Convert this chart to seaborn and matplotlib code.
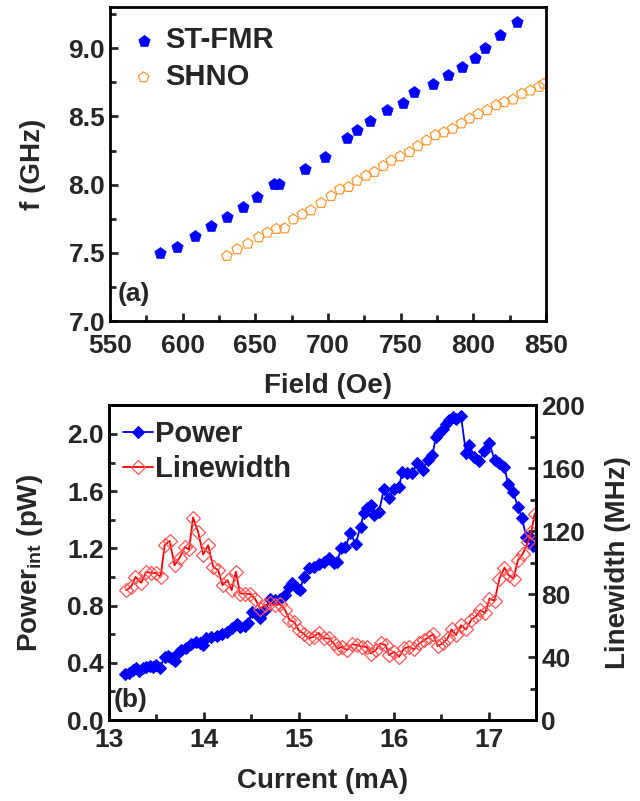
import matplotlib
matplotlib.use('Agg')
import matplotlib.pyplot as plt
import seaborn as sns
from matplotlib.ticker import MultipleLocator, FormatStrFormatter

# (a) resonance frequency vs field
fmr_field = [584.5, 596.3, 608.2, 619.4, 630.6, 641.4, 651.2, 662.9, 666.3, 684.1,
             697.8, 713.1, 720.0, 728.9, 740.3, 751.5, 759.3, 772.6, 782.9, 792.2,
             801.1, 808.0, 818.5, 829.9]
fmr_freq = [7.50, 7.546, 7.624, 7.70, 7.766, 7.834, 7.907, 8.002, 8.002, 8.117,
            8.202, 8.339, 8.402, 8.468, 8.544, 8.60, 8.676, 8.737, 8.80, 8.861,
            8.929, 9.0, 9.093, 9.188]
shno_field = [630.4, 637.5, 644.8, 652.3, 658.3, 664.5, 670.2, 676.1, 682.3, 688.2,
              695.3, 702.2, 708.1, 714.1, 720.0, 726.2, 731.9, 738.1, 743.5, 749.7,
              756.1, 761.8, 767.8, 773.9, 779.7, 785.8, 791.8, 797.5, 803.4, 809.6,
              815.8, 821.3, 827.4, 833.4, 839.3, 845.3, 848.5]
shno_freq = [7.478, 7.527, 7.568, 7.615, 7.649, 7.676, 7.680, 7.746, 7.783, 7.812,
             7.866, 7.917, 7.966, 7.983, 8.029, 8.066, 8.093, 8.137, 8.176, 8.207,
             8.239, 8.283, 8.324, 8.363, 8.383, 8.410, 8.449, 8.485, 8.517, 8.546,
             8.583, 8.605, 8.624, 8.666, 8.690, 8.717, 8.739]

# (b) integrated power and linewidth vs current
pw_current = [13.175, 13.217, 13.253, 13.288, 13.323, 13.358, 13.394, 13.429, 13.464, 13.499,
              13.535, 13.588, 13.623, 13.658, 13.693, 13.729, 13.764, 13.817, 13.870, 13.922,
              13.958, 13.993, 14.028, 14.081, 14.134, 14.187, 14.240, 14.293, 14.345, 14.381,
              14.434, 14.469, 14.504, 14.557, 14.592, 14.645, 14.698, 14.751, 14.804, 14.857,
              14.892, 14.927, 14.980, 15.015, 15.050, 15.103, 15.156, 15.209, 15.262, 15.315,
              15.368, 15.403, 15.445, 15.491, 15.544, 15.597, 15.650, 15.685, 15.720, 15.755,
              15.791, 15.844, 15.896, 15.949, 16.002, 16.055, 16.090, 16.143, 16.196, 16.249,
              16.302, 16.355, 16.407, 16.443, 16.478, 16.513, 16.548, 16.584, 16.619, 16.654,
              16.707, 16.760, 16.795, 16.848, 16.901, 16.954, 17.007, 17.060, 17.112, 17.165,
              17.201, 17.253, 17.306, 17.349, 17.394, 17.430, 17.465]
power = [0.324, 0.331, 0.350, 0.361, 0.343, 0.361, 0.373, 0.378, 0.368, 0.382,
         0.361, 0.443, 0.450, 0.431, 0.415, 0.466, 0.490, 0.501, 0.531, 0.543,
         0.536, 0.524, 0.571, 0.583, 0.590, 0.601, 0.618, 0.641, 0.669, 0.653,
         0.657, 0.676, 0.758, 0.741, 0.716, 0.769, 0.844, 0.839, 0.846, 0.874,
         0.932, 0.956, 0.921, 0.909, 1.002, 1.061, 1.072, 1.091, 1.107, 1.131,
         1.096, 1.107, 1.200, 1.212, 1.305, 1.231, 1.352, 1.445, 1.480, 1.503,
         1.434, 1.457, 1.615, 1.555, 1.618, 1.632, 1.737, 1.725, 1.725, 1.800,
         1.748, 1.818, 1.853, 1.981, 2.009, 2.033, 2.068, 2.098, 2.117, 2.105,
         2.126, 1.865, 1.923, 1.841, 1.814, 1.883, 1.935, 1.818, 1.795, 1.772,
         1.650, 1.597, 1.492, 1.410, 1.282, 1.282, 1.217]

lw_current = [13.182, 13.235, 13.281, 13.341, 13.394, 13.447, 13.492, 13.545, 13.588, 13.640,
              13.693, 13.746, 13.799, 13.845, 13.887, 13.940, 13.993, 14.046, 14.099, 14.152,
              14.197, 14.250, 14.293, 14.338, 14.381, 14.434, 14.486, 14.539, 14.592, 14.645,
              14.698, 14.751, 14.804, 14.857, 14.902, 14.952, 14.998, 15.050, 15.103, 15.156,
              15.209, 15.262, 15.315, 15.368, 15.410, 15.456, 15.509, 15.562, 15.614, 15.667,
              15.713, 15.755, 15.808, 15.861, 15.914, 15.949, 16.002, 16.055, 16.108, 16.161,
              16.214, 16.267, 16.319, 16.372, 16.415, 16.460, 16.513, 16.566, 16.608, 16.654,
              16.707, 16.760, 16.813, 16.866, 16.912, 16.961, 17.007, 17.060, 17.112, 17.165,
              17.208, 17.261, 17.306, 17.359, 17.412, 17.447, 17.483]
linewidth = [82.5, 84.7, 91.0, 87.2, 94.2, 93.5, 93.5, 91.0, 111.1, 113.9,
             98.4, 103.3, 110.1, 108.4, 128.7, 119.6, 105.2, 111.1, 97.4, 95.2,
             85.7, 88.9, 82.5, 94.2, 80.4, 80.4, 80.0, 77.2, 70.9, 73.0,
             74.1, 73.0, 73.7, 69.8, 63.5, 62.4, 57.1, 55.0, 51.9, 52.9,
             55.4, 51.9, 51.9, 48.7, 45.5, 46.6, 44.4, 48.3, 47.6, 46.6,
             46.6, 42.3, 44.4, 48.7, 47.6, 41.3, 43.4, 40.2, 45.5, 46.6,
             44.9, 48.7, 50.8, 52.9, 54.6, 47.0, 48.7, 51.9, 57.6, 54.0,
             60.3, 57.6, 63.5, 66.0, 69.8, 68.1, 77.2, 75.8, 89.9, 96.9,
             92.1, 89.9, 101.6, 105.8, 113.2, 119.6, 131.2]

sns.set_style('ticks')
plt.rcParams['font.family'] = ['Liberation Sans', 'DejaVu Sans']
plt.rcParams['font.weight'] = 'bold'
plt.rcParams['axes.labelweight'] = 'bold'
plt.rcParams['mathtext.fontset'] = 'custom'
plt.rcParams['mathtext.rm'] = 'Liberation Sans'
plt.rcParams['mathtext.bf'] = 'Liberation Sans:bold'

FS = 19

fig = plt.figure(figsize=(6.4, 8.01), dpi=100)
ax1 = fig.add_axes([0.172, 0.599, 0.681, 0.392])
ax2 = fig.add_axes([0.170, 0.101, 0.668, 0.393])


def style_axis(ax, right=False, xpad=6):
    for sp in ax.spines.values():
        sp.set_visible(True)
        sp.set_linewidth(2.0)
        sp.set_color('black')
    ax.tick_params(which='major', direction='in', length=6, width=2.0,
                   labelsize=FS, top=False, right=False)
    ax.tick_params(which='minor', direction='in', length=4, width=2.0,
                   top=False, right=False)
    ax.tick_params(axis='x', pad=xpad)
    if right:
        ax.tick_params(which='both', left=False, right=True, labelleft=False, labelright=True)
    for lab in ax.get_xticklabels() + ax.get_yticklabels():
        lab.set_fontweight('bold')


# ---------- (a) ----------
sns.scatterplot(x=fmr_field, y=fmr_freq, marker='p', s=75, color='#0000FF',
                edgecolor='#0000FF', linewidth=0.5, label='ST-FMR', ax=ax1)
sns.scatterplot(x=shno_field, y=shno_freq, marker='p', s=62, facecolor='none',
                edgecolor='#FF9933', linewidth=0.9, label='SHNO', ax=ax1)
ax1.set_xlim(550, 850)
ax1.set_ylim(7.0, 9.3)
ax1.xaxis.set_major_locator(MultipleLocator(50))
ax1.xaxis.set_minor_locator(MultipleLocator(25))
ax1.yaxis.set_major_locator(MultipleLocator(0.5))
ax1.yaxis.set_minor_locator(MultipleLocator(0.25))
ax1.yaxis.set_major_formatter(FormatStrFormatter('%.1f'))
ax1.set_xlabel('Field (Oe)', fontsize=FS + 1, fontweight='bold', labelpad=11)
ax1.set_ylabel('f (GHz)', fontsize=FS + 1, fontweight='bold', labelpad=16)
style_axis(ax1, xpad=9)
leg1 = ax1.legend(loc='upper left', bbox_to_anchor=(0.0, 1.0), frameon=False,
                  fontsize=FS + 2, handlelength=1.0, handletextpad=0.25,
                  labelspacing=0.3, borderaxespad=0.25)
for t in leg1.get_texts():
    t.set_fontweight('bold')
ax1.text(0.018, 0.05, '(a)', transform=ax1.transAxes, fontsize=FS,
         fontweight='bold', ha='left', va='bottom')

# ---------- (b) ----------
ax3 = ax2.twinx()
sns.lineplot(x=pw_current, y=power, marker='D', markersize=6.5, color='#0000FF',
             markeredgecolor='#0000FF', linewidth=1.3, sort=False, estimator=None,
             label='Power', ax=ax2, legend=False)
sns.lineplot(x=lw_current, y=linewidth, marker='D', markersize=7, color='#FF0000',
             markerfacecolor='none', markeredgecolor='#FF5555', markeredgewidth=0.9,
             linewidth=1.3, sort=False, estimator=None, label='Linewidth', ax=ax3,
             legend=False)
ax2.set_xlim(13, 17.5)
ax2.set_ylim(0, 2.2)
ax3.set_ylim(0, 200)
ax2.xaxis.set_major_locator(MultipleLocator(1))
ax2.xaxis.set_minor_locator(MultipleLocator(0.5))
ax2.yaxis.set_major_locator(MultipleLocator(0.4))
ax2.yaxis.set_minor_locator(MultipleLocator(0.2))
ax2.yaxis.set_major_formatter(FormatStrFormatter('%.1f'))
ax3.yaxis.set_major_locator(MultipleLocator(40))
ax3.yaxis.set_minor_locator(MultipleLocator(20))
ax2.set_xlabel('Current (mA)', fontsize=FS + 1, fontweight='bold', labelpad=11)
ax2.set_ylabel(r'Power$_{\mathrm{int}}$ (pW)', fontsize=FS + 1, fontweight='bold', labelpad=16)
ax3.set_ylabel('Linewidth (MHz)', fontsize=FS + 1, fontweight='bold', labelpad=14)
style_axis(ax2)
style_axis(ax3, right=True)
ax3.tick_params(which='both', bottom=False, labelbottom=False)

h2, l2 = ax2.get_legend_handles_labels()
h3, l3 = ax3.get_legend_handles_labels()
leg2 = ax2.legend(h2 + h3, l2 + l3, loc='upper left', bbox_to_anchor=(0.0, 1.0),
                  frameon=False, fontsize=FS + 2, handlelength=1.0, handletextpad=0.1,
                  labelspacing=0.25, borderaxespad=0.1)
for t in leg2.get_texts():
    t.set_fontweight('bold')
ax2.text(0.012, 0.025, '(b)', transform=ax2.transAxes, fontsize=FS,
         fontweight='bold', ha='left', va='bottom')

fig.savefig('out.png', dpi=100)
